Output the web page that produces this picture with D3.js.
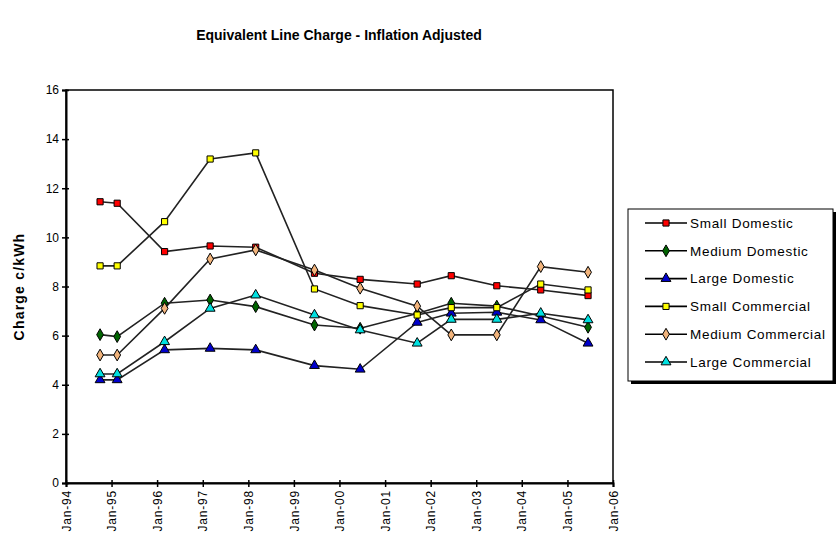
<!DOCTYPE html>
<html>
<head>
<meta charset="utf-8">
<script src="https://cdn.jsdelivr.net/npm/d3@7"></script>
<style>
  body { margin: 0; background: #fff; }
  text { font-family: "Liberation Sans", Arial, sans-serif; }
</style>
</head>
<body>
<div id="chart"></div>
<script>
// dates of the readings
const dates = ["1994-10-01", "1995-02-15", "1996-03-01", "1997-03-01", "1998-03-01", "1999-06-15",
  "2000-06-15", "2001-09-15", "2002-06-15", "2003-06-15", "2004-06-01", "2005-06-15"];

const smallDomestic = [11.45, 11.39, 9.42, 9.65, 9.6, 8.54, 8.29, 8.1, 8.44, 8.03, 7.86, 7.63];
const mediumDomestic = [6.04, 5.96, 7.32, 7.45, 7.18, 6.43, 6.3, 6.9, 7.32, 7.2, 6.8, 6.34];
const largeDomestic = [4.2, 4.2, 5.42, 5.48, 5.42, 4.78, 4.63, 6.54, 6.91, 6.95, 6.64, 5.69];
const smallCommercial = [8.84, 8.84, 10.64, 13.19, 13.44, 7.9, 7.22, 6.84, 7.14, 7.14, 8.1, 7.86];
const mediumCommercial = [5.21, 5.21, 7.11, 9.12, 9.49, 8.67, 7.93, 7.2, 6.03, 6.03, 8.81, 8.58];
const largeCommercial = [4.44, 4.44, 5.75, 7.11, 7.65, 6.84, 6.23, 5.69, 6.66, 6.66, 6.91, 6.64];

const seriesNames = ["Small Domestic", "Medium Domestic", "Large Domestic",
  "Small Commercial", "Medium Commercial", "Large Commercial"];
const yTicks = [0, 2, 4, 6, 8, 10, 12, 14, 16];

const seriesValues = [smallDomestic, mediumDomestic, largeDomestic, smallCommercial, mediumCommercial, largeCommercial];
const colors = ["#ff0000", "#006400", "#0000cc", "#ffff00", "#f2b47c", "#00e0e0"];
const shapes = [d3.symbolSquare, d3.symbolDiamond, d3.symbolTriangle, d3.symbolSquare, d3.symbolDiamond, d3.symbolTriangle];
const sizes = [38, 40, 42, 38, 40, 42];

const parse = d3.timeParse("%Y-%m-%d");
const data = seriesValues.map((vals, i) => ({
  name: seriesNames[i],
  color: colors[i],
  shape: shapes[i],
  size: sizes[i],
  points: vals.map((v, j) => ({ date: parse(dates[j]), value: v }))
}));

const width = 837, height = 542;
const margin = { top: 90, left: 66, right: 224, bottom: 59 };

const svg = d3.select("#chart").append("svg")
  .attr("width", width)
  .attr("height", height);

const x = d3.scaleTime()
  .domain([new Date(1994, 0, 1), new Date(2006, 0, 1)])
  .range([margin.left, width - margin.right]);

const y = d3.scaleLinear()
  .domain([0, 16])
  .range([height - margin.bottom, margin.top]);

// title
svg.append("text")
  .attr("x", 339)
  .attr("y", 40)
  .attr("text-anchor", "middle")
  .attr("font-size", 14)
  .attr("font-weight", "bold")
  .text("Equivalent Line Charge - Inflation Adjusted");

// plot border
svg.append("rect")
  .attr("x", x.range()[0])
  .attr("y", y(16))
  .attr("width", x.range()[1] - x.range()[0])
  .attr("height", y(0) - y(16))
  .attr("fill", "none")
  .attr("stroke", "#000")
  .attr("stroke-width", 1.5);

// y axis
const yAxis = svg.append("g")
  .attr("transform", `translate(${margin.left},0)`)
  .call(d3.axisLeft(y).tickValues(yTicks).tickSize(4).tickFormat(d3.format("d")));
yAxis.select(".domain").attr("stroke-width", 2);
yAxis.selectAll(".tick line").attr("x2", 3).attr("x1", -4).attr("stroke-width", 1.5);
yAxis.selectAll(".tick text").attr("font-size", 12).attr("font-family", "Liberation Sans, Arial").attr("x", -7);

// x axis
const xAxis = svg.append("g")
  .attr("transform", `translate(0,${height - margin.bottom})`)
  .call(d3.axisBottom(x).ticks(d3.timeYear.every(1)).tickSize(4).tickFormat(d3.timeFormat("Jan-%y")));
xAxis.select(".domain").attr("stroke-width", 2);
xAxis.selectAll(".tick line").attr("y1", -3).attr("y2", 4).attr("stroke-width", 1.5);
xAxis.selectAll(".tick text")
  .attr("font-size", 12)
  .attr("letter-spacing", 0.8)
  .attr("font-family", "Liberation Sans, Arial")
  .attr("transform", "rotate(-90)")
  .attr("text-anchor", "end")
  .attr("x", -7)
  .attr("y", 0)
  .attr("dy", "0.35em");

// y label
svg.append("text")
  .attr("transform", `translate(24,${(y(0) + y(16)) / 2}) rotate(-90)`)
  .attr("text-anchor", "middle")
  .attr("font-size", 14)
  .attr("letter-spacing", 1.2)
  .attr("font-weight", "bold")
  .text("Charge c/kWh");

const line = d3.line()
  .x(d => x(d.date))
  .y(d => y(d.value));

// lines first, then markers
svg.append("g").selectAll("path")
  .data(data)
  .join("path")
  .attr("d", d => line(d.points))
  .attr("fill", "none")
  .attr("stroke", "#222")
  .attr("stroke-width", 1.6);

data.forEach(s => {
  svg.append("g").selectAll("path")
    .data(s.points)
    .join("path")
    .attr("transform", d => `translate(${x(d.date)},${y(d.value)})`)
    .attr("d", d3.symbol().type(s.shape).size(s.size))
    .attr("fill", s.color)
    .attr("stroke", "#000")
    .attr("stroke-width", 1);
});

// legend
const lg = svg.append("g").attr("transform", "translate(628,209)");
lg.append("rect").attr("x", 3).attr("y", 3).attr("width", 205).attr("height", 172).attr("fill", "#000");
lg.append("rect").attr("width", 205).attr("height", 172).attr("fill", "#fff").attr("stroke", "#000").attr("stroke-width", 1);

data.forEach((s, i) => {
  const gy = 14 + i * 27.8;
  const item = lg.append("g").attr("transform", `translate(0,${gy})`);
  item.append("line").attr("x1", 17).attr("x2", 59).attr("stroke", "#000").attr("stroke-width", 1.6);
  item.append("path")
    .attr("transform", "translate(38,0)")
    .attr("d", d3.symbol().type(s.shape).size(s.size))
    .attr("fill", s.color)
    .attr("stroke", "#000")
    .attr("stroke-width", 1);
  item.append("text")
    .attr("x", 62)
    .attr("dy", "0.35em")
    .attr("font-size", 13.5)
    .attr("letter-spacing", 0.7)
    .text(s.name);
});
</script>
</body>
</html>
